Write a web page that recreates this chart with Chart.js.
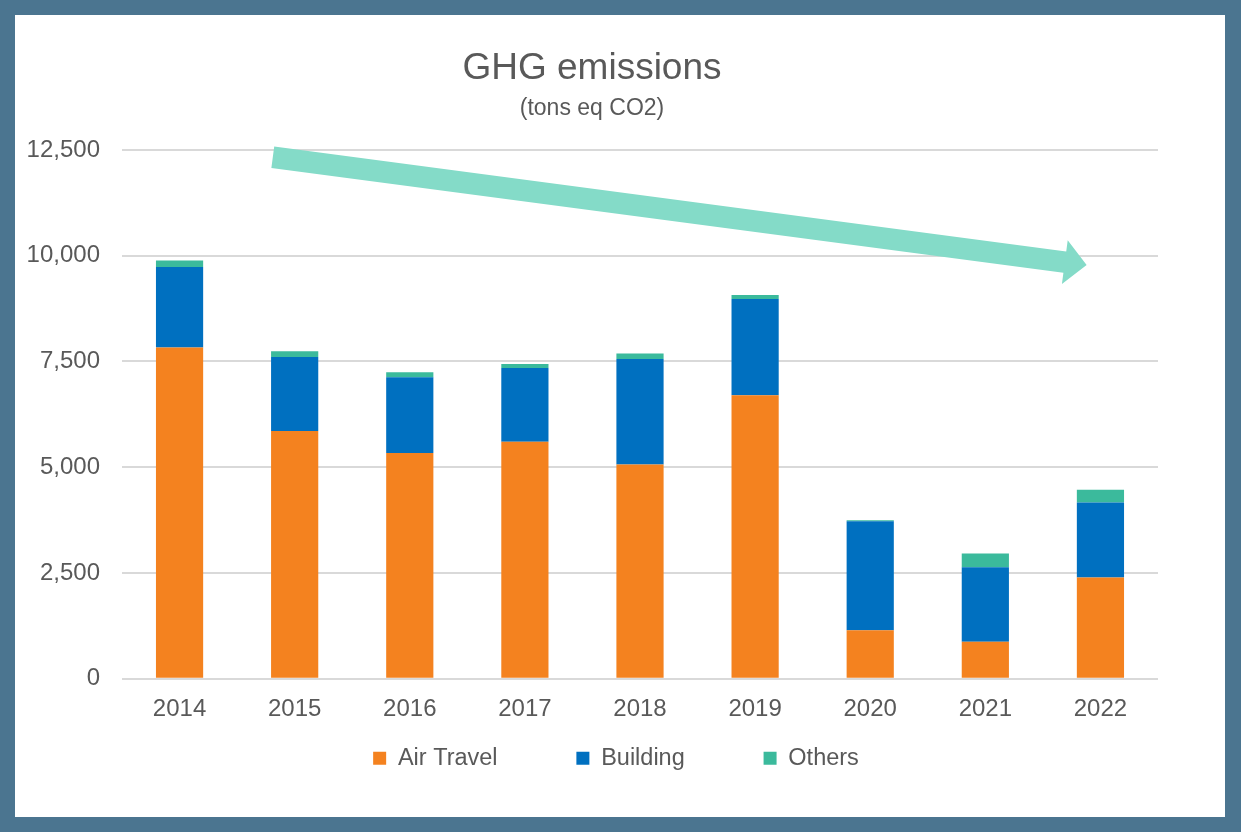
<!DOCTYPE html>
<html>
<head>
<meta charset="utf-8">
<script src="https://cdn.jsdelivr.net/npm/chart.js@4.4.1/dist/chart.umd.min.js"></script>
<style>
    html, body { margin: 0; padding: 0; }
    body { width: 1241px; height: 832px; background: #4b7590; position: relative; overflow: hidden; }
    #panel { position: absolute; left: 15px; top: 15px; width: 1210px; height: 802px; background: #fff; }
</style>
</head>
<body>
<div id="panel"><canvas id="ghgChart"></canvas></div>
<script>
// GHG emissions by year, stacked by source (tons eq CO2)
const years = ['2014', '2015', '2016', '2017', '2018', '2019', '2020', '2021', '2022'];
const airTravel = [7830, 5855, 5335, 5605, 5065, 6700, 1145, 875, 2390];
const building  = [1905, 1750, 1790, 1740, 2495, 2275, 2575, 1760, 1775];
const others    = [150, 135, 120, 95, 130, 95, 25, 325, 305];

// trend arrow, given in data space (category index, value)
const arrowFrom = { x: 0.81, y: 12330 };
const arrowTo   = { x: 7.88, y: 9780 };

const textColor = '#595959';
const fontFamily = '"Liberation Sans", Arial, sans-serif';

// draws the teal trend arrow on top of the bars
const trendArrow = {
    id: 'trendArrow',
    afterDatasetsDraw(chart) {
        const xs = chart.scales.x, ys = chart.scales.y, ctx = chart.ctx;
        const x0 = xs.getPixelForValue(arrowFrom.x), y0 = ys.getPixelForValue(arrowFrom.y);
        const x1 = xs.getPixelForValue(arrowTo.x), y1 = ys.getPixelForValue(arrowTo.y);
        const len = Math.hypot(x1 - x0, y1 - y0);
        const ux = (x1 - x0) / len, uy = (y1 - y0) / len;
        const nx = -uy, ny = ux;
        const shaft = 10.8, head = 22, headLen = 22;
        const bx = x1 - ux * headLen, by = y1 - uy * headLen;

        ctx.save();
        ctx.fillStyle = '#84dbc8';
        ctx.beginPath();
        ctx.moveTo(x0 + nx * shaft, y0 + ny * shaft);
        ctx.lineTo(bx + nx * shaft, by + ny * shaft);
        ctx.lineTo(bx + nx * head, by + ny * head);
        ctx.lineTo(x1, y1);
        ctx.lineTo(bx - nx * head, by - ny * head);
        ctx.lineTo(bx - nx * shaft, by - ny * shaft);
        ctx.lineTo(x0 - nx * shaft, y0 - ny * shaft);
        ctx.closePath();
        ctx.fill();
        ctx.restore();
    }
};

// nudge the legend row to the right, like in the original slide
const legendShift = {
    id: 'legendShift',
    afterLayout(chart) {
        chart.legend.left += 24;
        chart.legend.right += 24;
    }
};

new Chart(document.getElementById('ghgChart'), {
    type: 'bar',
    data: {
        labels: years,
        datasets: [
            { label: 'Air Travel', data: airTravel, backgroundColor: '#f4821f' },
            { label: 'Building', data: building, backgroundColor: '#0070c0' },
            { label: 'Others', data: others, backgroundColor: '#3bba9c' }
        ]
    },
    options: {
        responsive: true,
        maintainAspectRatio: false,
        animation: false,
        layout: { padding: { left: 11, right: 67, top: 0, bottom: 37 } },
        datasets: {
            bar: { barPercentage: 0.41, categoryPercentage: 1, borderWidth: 0 }
        },
        plugins: {
            title: {
                display: true,
                text: 'GHG emissions',
                color: textColor,
                font: { family: fontFamily, size: 37, weight: 'normal' },
                padding: { top: 32, bottom: 0 }
            },
            subtitle: {
                display: true,
                text: '(tons eq CO2)',
                color: textColor,
                font: { family: fontFamily, size: 23, weight: 'normal' },
                padding: { top: 3, bottom: 28 }
            },
            legend: {
                position: 'bottom',
                labels: {
                    color: textColor,
                    font: { family: fontFamily, size: 23.5 },
                    boxWidth: 13,
                    boxHeight: 13,
                    padding: 7,
                    generateLabels(chart) {
                        const items = Chart.defaults.plugins.legend.labels.generateLabels(chart);
                        items.forEach((item, i) => {
                            item.lineWidth = 0;
                            if (i < items.length - 1) item.text += '\u00a0'.repeat(11);
                        });
                        return items;
                    }
                }
            },
            tooltip: { enabled: false }
        },
        scales: {
            x: {
                stacked: true,
                grid: { display: false, drawTicks: false },
                border: { display: false },
                ticks: { color: textColor, font: { family: fontFamily, size: 24 }, padding: 16 }
            },
            y: {
                stacked: true,
                min: 0,
                max: 12500,
                grid: { color: '#d9d9d9', lineWidth: 2, drawTicks: false },
                border: { display: false },
                ticks: {
                    stepSize: 2500,
                    color: textColor,
                    font: { family: fontFamily, size: 24 },
                    padding: 22,
                    callback: v => v.toLocaleString('en-US')
                },
                afterFit(scale) {
                    scale.width = 96;
                }
            }
        }
    },
    plugins: [trendArrow, legendShift]
});
</script>
</body>
</html>
